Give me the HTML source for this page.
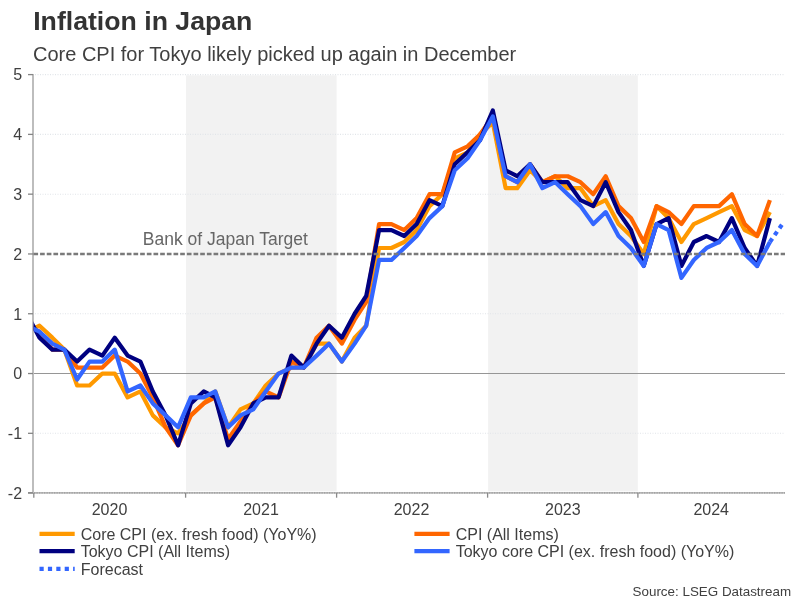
<!DOCTYPE html>
<html lang="en"><head><meta charset="utf-8"><title>Inflation in Japan</title>
<style>
html,body{margin:0;padding:0;background:#fff;}
body{width:801px;height:601px;position:relative;overflow:hidden;font-family:"Liberation Sans",Arial,sans-serif;color:#404040;}
.t{position:absolute;white-space:nowrap;line-height:1;}
.title{left:33.2px;top:7.6px;font-size:26.67px;font-weight:bold;color:#333;}
.sub{left:33px;top:43.7px;font-size:20px;color:#404040;}
.yl{width:22.1px;text-align:right;left:0;font-size:16px;color:#404040;}
.xl{width:80px;text-align:center;font-size:16px;top:502px;color:#404040;}
.lg{font-size:16px;color:#404040;}
.src{right:9.9px;top:585px;font-size:13.4px;color:#404040;}
.boj{left:142.8px;top:230.8px;font-size:17.5px;color:#666;}
</style></head><body>
<svg width="801" height="601" viewBox="0 0 801 601" style="position:absolute;left:0;top:0">
<defs><clipPath id="plot"><rect x="33.5" y="60" width="760" height="440"/></clipPath></defs>
<rect x="186" y="75.3" width="150.6" height="416" fill="#f2f2f2"/>
<rect x="488.1" y="75.3" width="149.7" height="416" fill="#f2f2f2"/>
<line x1="35" x2="785" y1="74.6" y2="74.6" stroke="#e1e5e9" stroke-width="1.1" stroke-dasharray="1 1.5"/>
<line x1="35" x2="785" y1="134.4" y2="134.4" stroke="#e1e5e9" stroke-width="1.1" stroke-dasharray="1 1.5"/>
<line x1="35" x2="785" y1="194.2" y2="194.2" stroke="#e1e5e9" stroke-width="1.1" stroke-dasharray="1 1.5"/>
<line x1="35" x2="785" y1="313.7" y2="313.7" stroke="#e1e5e9" stroke-width="1.1" stroke-dasharray="1 1.5"/>
<line x1="35" x2="785" y1="433.3" y2="433.3" stroke="#e1e5e9" stroke-width="1.1" stroke-dasharray="1 1.5"/>
<line x1="28" x2="785" y1="373.5" y2="373.5" stroke="#969696" stroke-width="1.2"/>
<line x1="33" x2="33" y1="74" y2="493" stroke="#bdbdbd" stroke-width="2"/>
<line x1="28" x2="785" y1="492.9" y2="492.9" stroke="#bdbdbd" stroke-width="1.8"/>
<line x1="34" x2="785" y1="492.9" y2="492.9" stroke="#9a9a9a" stroke-width="1.4" stroke-dasharray="1.25 1.25"/>
<line x1="28" x2="33" y1="492.9" y2="492.9" stroke="#858585" stroke-width="1.5"/>
<line x1="28" x2="33" y1="74.6" y2="74.6" stroke="#858585" stroke-width="1.3"/>
<line x1="28" x2="33" y1="134.39" y2="134.39" stroke="#858585" stroke-width="1.3"/>
<line x1="28" x2="33" y1="194.17" y2="194.17" stroke="#858585" stroke-width="1.3"/>
<line x1="28" x2="33" y1="253.96" y2="253.96" stroke="#858585" stroke-width="1.3"/>
<line x1="28" x2="33" y1="313.74" y2="313.74" stroke="#858585" stroke-width="1.3"/>
<line x1="28" x2="33" y1="373.53" y2="373.53" stroke="#858585" stroke-width="1.3"/>
<line x1="28" x2="33" y1="433.31" y2="433.31" stroke="#858585" stroke-width="1.3"/>
<line x1="33.8" x2="33.8" y1="493" y2="497.7" stroke="#8a8a8a" stroke-width="1.3"/>
<line x1="185.6" x2="185.6" y1="493" y2="497.7" stroke="#8a8a8a" stroke-width="1.3"/>
<line x1="336.6" x2="336.6" y1="493" y2="497.7" stroke="#8a8a8a" stroke-width="1.3"/>
<line x1="487.6" x2="487.6" y1="493" y2="497.7" stroke="#8a8a8a" stroke-width="1.3"/>
<line x1="637.9" x2="637.9" y1="493" y2="497.7" stroke="#8a8a8a" stroke-width="1.3"/>
<g clip-path="url(#plot)" fill="none" stroke-linejoin="round">
<polyline points="26.67,331.68 39.49,325.70 52.31,337.66 64.31,349.61 77.13,385.49 89.54,385.49 102.36,373.53 114.77,373.53 127.59,397.44 140.41,391.46 152.82,415.38 165.64,427.34 178.05,433.31 190.87,415.38 203.69,403.42 215.27,391.46 228.09,427.34 240.50,409.40 253.32,403.42 265.73,385.49 278.55,373.53 291.37,367.55 303.78,367.55 316.60,343.64 329.01,343.64 341.83,361.57 354.65,337.66 366.23,325.70 379.06,247.98 391.46,247.98 404.29,242.00 416.69,230.04 429.52,206.13 442.34,194.17 454.74,158.30 467.57,152.32 479.97,134.39 492.80,122.43 505.62,188.19 517.20,188.19 530.02,170.26 542.43,182.21 555.25,176.24 567.66,188.19 580.48,188.19 593.30,206.13 605.71,200.15 618.53,224.06 630.94,236.02 643.76,253.96 656.58,206.13 668.58,218.09 681.40,242.00 693.81,224.06 706.63,218.09 719.04,212.11 731.86,206.13 744.68,230.04 757.09,236.02 769.91,212.11" stroke="#ff9900" stroke-width="4.2"/>
<polyline points="26.67,325.70 39.49,331.68 52.31,349.61 64.31,349.61 77.13,367.55 89.54,367.55 102.36,367.55 114.77,355.59 127.59,361.57 140.41,373.53 152.82,397.44 165.64,427.34 178.05,445.27 190.87,415.38 203.69,403.42 215.27,397.44 228.09,439.29 240.50,421.36 253.32,403.42 265.73,391.46 278.55,397.44 291.37,361.57 303.78,367.55 316.60,337.66 329.01,325.70 341.83,343.64 354.65,319.72 366.23,301.79 379.06,224.06 391.46,224.06 404.29,230.04 416.69,218.09 429.52,194.17 442.34,194.17 454.74,152.32 467.57,146.34 479.97,134.39 492.80,116.45 505.62,176.24 517.20,182.21 530.02,164.28 542.43,182.21 555.25,176.24 567.66,176.24 580.48,182.21 593.30,194.17 605.71,176.24 618.53,206.13 630.94,218.09 643.76,242.00 656.58,206.13 668.58,212.11 681.40,224.06 693.81,206.13 706.63,206.13 719.04,206.13 731.86,194.17 744.68,224.06 757.09,236.02 769.91,200.15" stroke="#ff6600" stroke-width="4.2"/>
<polyline points="26.67,313.74 39.49,337.66 52.31,349.61 64.31,349.61 77.13,361.57 89.54,349.61 102.36,355.59 114.77,337.66 127.59,355.59 140.41,361.57 152.82,391.46 165.64,415.38 178.05,445.27 190.87,403.42 203.69,391.46 215.27,397.44 228.09,445.27 240.50,427.34 253.32,403.42 265.73,397.44 278.55,397.44 291.37,355.59 303.78,367.55 316.60,343.64 329.01,325.70 341.83,337.66 354.65,313.74 366.23,295.81 379.06,230.04 391.46,230.04 404.29,236.02 416.69,224.06 429.52,200.15 442.34,206.13 454.74,164.28 467.57,152.32 479.97,140.36 492.80,110.47 505.62,170.26 517.20,176.24 530.02,164.28 542.43,182.21 555.25,182.21 567.66,182.21 580.48,200.15 593.30,206.13 605.71,182.21 618.53,212.11 630.94,230.04 643.76,265.91 656.58,224.06 668.58,218.09 681.40,265.91 693.81,242.00 706.63,236.02 719.04,242.00 731.86,218.09 744.68,247.98 757.09,265.91 769.91,218.09" stroke="#000080" stroke-width="4.2"/>
<polyline points="26.67,325.70 39.49,331.68 52.31,343.64 64.31,349.61 77.13,379.51 89.54,361.57 102.36,361.57 114.77,349.61 127.59,391.46 140.41,385.49 152.82,403.42 165.64,415.38 178.05,427.34 190.87,397.44 203.69,397.44 215.27,391.46 228.09,427.34 240.50,415.38 253.32,409.40 265.73,391.46 278.55,373.53 291.37,367.55 303.78,367.55 316.60,355.59 329.01,343.64 341.83,361.57 354.65,343.64 366.23,325.70 379.06,259.94 391.46,259.94 404.29,247.98 416.69,236.02 429.52,218.09 442.34,206.13 454.74,170.26 467.57,158.30 479.97,140.36 492.80,116.45 505.62,176.24 517.20,182.21 530.02,164.28 542.43,188.19 555.25,182.21 567.66,194.17 580.48,206.13 593.30,224.06 605.71,212.11 618.53,236.02 630.94,247.98 643.76,265.91 656.58,224.06 668.58,230.04 681.40,277.87 693.81,259.94 706.63,247.98 719.04,242.00 731.86,230.04 744.68,253.96 757.09,265.91 769.91,242.00" stroke="#3366ff" stroke-width="4.2"/>
<polyline points="769.91,242.00 782.32,224.06" stroke="#3366ff" stroke-width="4.2" stroke-dasharray="4.2 4.2"/>
</g>
<line x1="33.4" x2="785" y1="254.1" y2="254.1" stroke="#7a7a7a" stroke-width="2.5" stroke-dasharray="4.67 2.002"/>
<line x1="39.5" x2="74.7" y1="533.8" y2="533.8" stroke="#ff9900" stroke-width="4.2"/>
<line x1="39.5" x2="74.7" y1="551.2" y2="551.2" stroke="#000080" stroke-width="4.2"/>
<line x1="414.4" x2="449.6" y1="533.8" y2="533.8" stroke="#ff6600" stroke-width="4.2"/>
<line x1="414.4" x2="449.6" y1="551.2" y2="551.2" stroke="#3366ff" stroke-width="4.2"/>
<line x1="39.5" x2="74.7" y1="568.9" y2="568.9" stroke="#3366ff" stroke-width="4.2" stroke-dasharray="4.2 4.2"/>
</svg>
<div class="t title">Inflation in Japan</div>
<div class="t sub">Core CPI for Tokyo likely picked up again in December</div>
<div class="t yl" style="top:67.4px">5</div>
<div class="t yl" style="top:127.2px">4</div>
<div class="t yl" style="top:187.0px">3</div>
<div class="t yl" style="top:246.8px">2</div>
<div class="t yl" style="top:306.5px">1</div>
<div class="t yl" style="top:366.3px">0</div>
<div class="t yl" style="top:426.1px">-1</div>
<div class="t yl" style="top:485.9px">-2</div>
<div class="t xl" style="left:69.5px">2020</div>
<div class="t xl" style="left:221px">2021</div>
<div class="t xl" style="left:371.5px">2022</div>
<div class="t xl" style="left:522.8px">2023</div>
<div class="t xl" style="left:671.2px">2024</div>
<div class="t boj">Bank of Japan Target</div>
<div class="t lg" style="left:80.7px;top:527.1px">Core CPI (ex. fresh food) (YoY%)</div>
<div class="t lg" style="left:80.7px;top:543.5px">Tokyo CPI (All Items)</div>
<div class="t lg" style="left:80.8px;top:562.2px">Forecast</div>
<div class="t lg" style="left:455.7px;top:527.1px">CPI (All Items)</div>
<div class="t lg" style="left:455.7px;top:543.7px">Tokyo core CPI (ex. fresh food) (YoY%)</div>
<div class="t src">Source: LSEG Datastream</div>
</body></html>
